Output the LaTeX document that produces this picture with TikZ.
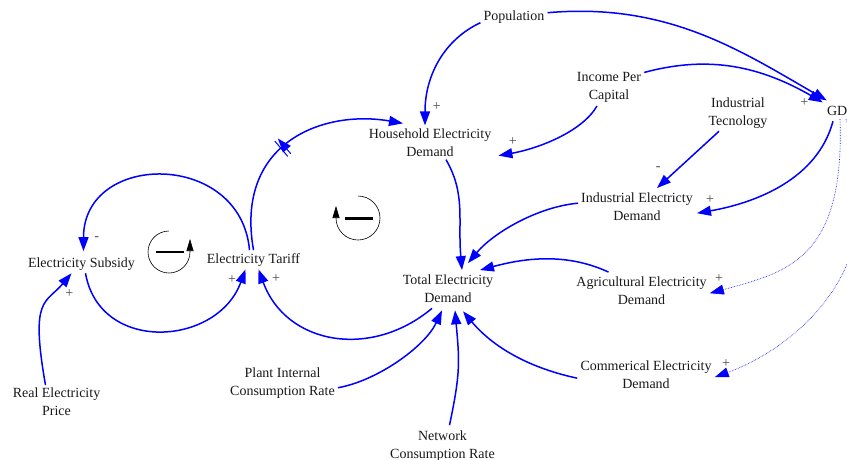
\documentclass[tikz,border=0pt]{standalone}
\usepackage{fontspec}
\setmainfont{Liberation Serif}
\usepackage{xcolor}
\definecolor{linkblue}{RGB}{0,0,255}
\definecolor{signgray}{RGB}{70,70,70}
\usepackage{tikz}
\usetikzlibrary{arrows.meta,decorations.markings}

\begin{document}
\begin{tikzpicture}[x=1pt, y=1pt, font=\fontsize{14}{18}\selectfont,
  var/.style={align=center, inner sep=3pt, text=black!90},
  link/.style={linkblue, line width=1.5pt, -{Triangle[length=14pt,width=10pt]}},
  weak/.style={linkblue, line width=0.6pt, densely dotted, -{Triangle[length=14pt,width=10pt]}},
  sign/.style={signgray, inner sep=0pt, font=\fontsize{14}{14}\selectfont},
  loopsym/.style={black, line width=0.6pt, -{Triangle[length=12pt,width=7pt]}},
  bar/.style={black, line width=2.2pt}]
\useasboundingbox (0,0) rectangle (847,-459);
% variables
\node[var] (subsidy) at (81.5,-263.7) {Electricity Subsidy};
\node[var] (tariff) at (253.5,-259.7) {Electricity Tariff};
\node[var] (house) at (430,-142.5) {Household Electricity\\Demand};
\node[var] (pop) at (514,-16.7) {Population};
\node[var] (income) at (609,-87.7) {Income Per\\Capital};
\node[var] (tech) at (738,-112.7) {Industrial\\Tecnology};
\node[var] (gdp) at (841,-111.3) {GDP};
\node[var] (indus) at (637,-207.2) {Industrial Electricty\\Demand};
\node[var] (total) at (448,-289.2) {Total Electricity\\Demand};
\node[var] (agri) at (641.5,-291.2) {Agricultural Electricity\\Demand};
\node[var] (comm) at (646,-375.2) {Commerical Electricity\\Demand};
\node[var] (plant) at (282.5,-382.7) {Plant Internal\\Consumption Rate};
\node[var] (realp) at (56.5,-402.2) {Real Electricity\\Price};
\node[var] (netw) at (442.5,-445.7) {Network\\Consumption Rate};
% links
\draw[link] ([xshift=-4pt]tariff.north) .. controls +(95:100) and +(90:100) .. ([xshift=2pt,yshift=3pt]subsidy.north);
\draw[link] ([xshift=4pt]subsidy.south) .. controls +(-80:82) and +(-110:82) .. ([xshift=-8pt]tariff.south);
\draw[link] ([xshift=-11pt]realp.north) .. controls +(100:90) and +(230:40) .. ([xshift=-10pt]subsidy.south);
\draw[link, postaction={decorate, decoration={markings, mark=at position 0.47 with {\draw[linkblue, line width=1pt] (-2pt,-10pt) -- (-2pt,10pt) (2pt,-10pt) -- (2pt,10pt);}}}]
  (tariff.north) .. controls +(100:110) and +(170:80) .. ([xshift=-27pt,yshift=2pt]house.north);
\draw[link] ([yshift=-6pt]pop.west) .. controls +(205:40) and +(90:50) .. ([xshift=-5pt]house.north);
\draw[link] ([yshift=4pt]pop.east) .. controls +(5:120) and +(150:100) .. ([xshift=3pt,yshift=3pt]gdp.north west);
\draw[link] ([yshift=-3pt]income.north east) .. controls +(15:60) and +(150:80) .. ([xshift=-1pt,yshift=1pt]gdp.north west);
\draw[link] ([xshift=-12pt]income.south) .. controls +(240:30) and +(10:40) .. ([xshift=4pt,yshift=4pt]house.south east);
\draw[link] ([xshift=-19pt]tech.south) -- ([xshift=20pt,yshift=2pt]indus.north);
\draw[link] ([xshift=-8pt,yshift=-2pt]gdp.south) .. controls +(255:60) and +(10:60) .. ([xshift=1pt,yshift=-6pt]indus.east);
\draw[weak] ([xshift=-1pt]gdp.south) .. controls +(-88:140) and +(15:80) .. ([yshift=-2pt]agri.east);
\draw[weak] ([xshift=5pt]gdp.south) .. controls +(-70:160) and +(20:80) .. ([yshift=-2pt]comm.east);
\draw[link] ([xshift=16pt]house.south) .. controls +(-60:40) and +(95:50) .. ([xshift=14pt,yshift=2pt]total.north);
\draw[link] ([yshift=4pt]indus.west) .. controls +(185:40) and +(50:40) .. ([xshift=20pt,yshift=9pt]total.north);
\draw[link] ([xshift=-33pt,yshift=2pt]agri.north) .. controls +(155:50) and +(15:40) .. ([xshift=32pt,yshift=2pt]total.north);
\draw[link] ([xshift=-16pt,yshift=-2pt]total.south) .. controls +(220:80) and +(-70:80) .. ([xshift=5pt]tariff.south);
\draw[link] ([yshift=-5pt]plant.east) .. controls +(10:40) and +(245:40) .. ([xshift=-6pt,yshift=-4pt]total.south);
\draw[link] ([xshift=7pt,yshift=2pt]netw.north) .. controls +(78:55) and +(-85:50) .. ([xshift=7pt,yshift=-4pt]total.south);
\draw[link] ([yshift=-3pt]comm.west) .. controls +(168:45) and +(-50:50) .. ([xshift=15pt,yshift=-5pt]total.south);
% polarities
\node[sign] (s1) at (96.7,-239) {-};
\node[sign] (s2) at (69.3,-294) {+};
\node[sign] (s3) at (232,-280) {+};
\node[sign] (s4) at (276,-279) {+};
\node[sign] (s5) at (436.7,-106.7) {+};
\node[sign] (s6) at (512.7,-141.7) {+};
\node[sign] (s7) at (804.3,-102.3) {+};
\node[sign] (s8) at (658.3,-168.3) {-};
\node[sign] (s9) at (710,-200) {+};
\node[sign] (s10) at (719,-278.3) {+};
\node[sign] (s11) at (726,-364) {+};
% loop markers
\draw[loopsym] (169,-231) arc[start angle=90, end angle=360, radius=21] -- ++(0,13);
\draw[bar] (156,-252) -- (184,-252);
\draw[loopsym] (358,-196) arc[start angle=90, end angle=-180, radius=22] -- ++(0,12);
\draw[bar] (345,-218.5) -- (372.5,-218.5);
\end{tikzpicture}
\end{document}
